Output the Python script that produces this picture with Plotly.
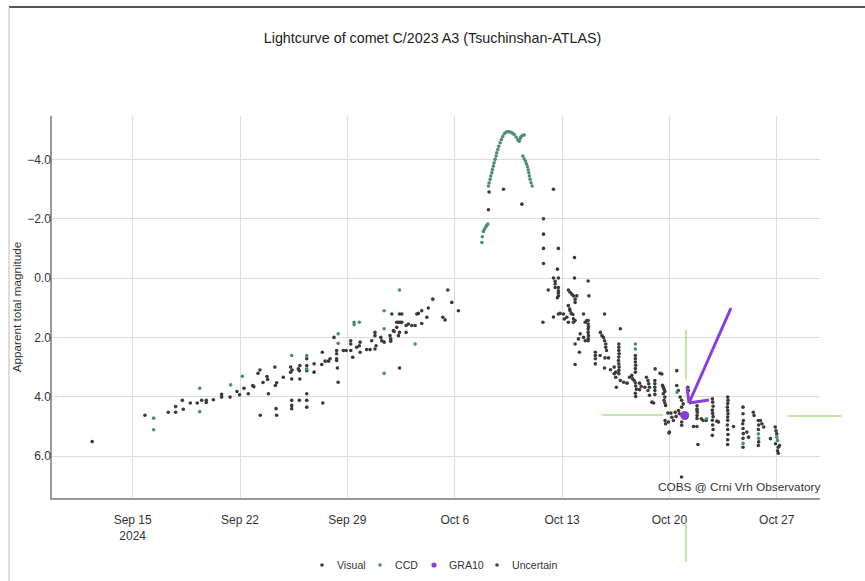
import pandas as pd
import plotly.graph_objects as go

# ---------------- data (days after 2024-09-15 00:00, apparent magnitude) ----------------
visual_day = [
    -2.64, 0.8, 2.32, 2.8, 2.8, 3.3, 3.24, 3.76, 4.21, 4.5, 4.8, 4.8, 5.26, 5.8, 5.8, 6.35,
    6.8, 6.97, 7.26, 7.54, 7.83, 7.9, 8.17, 8.3, 8.32, 8.5, 8.76, 8.8, 8.85, 9.27, 9.39,
    9.3, 9.35, 9.39, 9.82, 10.3, 10.3, 10.4, 10.37, 10.37, 10.37, 10.37, 10.9, 10.8, 10.87,
    10.9, 10.87, 11.35, 11.35, 11.35, 11.35, 11.35, 11.35, 11.83, 11.83, 12.37, 12.33,
    12.4, 12.55, 12.77, 12.87, 13.13, 13.3, 13.3, 13.3, 13.3, 13.35, 13.4, 13.74, 13.92,
    14.22, 14.22, 14.22, 14.35, 14.61, 14.78, 14.83, 14.83, 15.26, 15.48, 15.59, 15.8,
    15.8, 15.87, 15.8, 16.18, 16.24, 16.4, 16.78, 16.83, 16.83, 16.9, 17.0, 17.05, 17.22,
    17.33, 17.44, 17.55, 17.4, 17.55, 17.4, 17.22, 17.4, 17.33, 17.83, 17.83, 17.98, 18.2,
    18.42, 18.53, 18.63, 18.85, 18.85, 19.18, 19.28, 19.57, 20.22, 20.37, 20.55, 20.81,
    21.24,
    23.2, 23.24, 24.18, 25.38, 27.44, 26.79, 26.79, 26.79, 26.79, 27.76, 27.7, 28.81,
    28.81, 26.75, 27.1, 27.44, 27.55, 27.76, 27.55, 27.55, 27.76, 27.76, 27.76, 27.76,
    27.7, 27.44, 27.76, 28.09, 27.87, 28.41, 28.31, 28.15, 28.41, 28.52, 28.63, 28.74,
    28.85, 28.85, 28.41, 28.5, 28.52, 28.6, 28.7, 28.74, 28.85, 28.74, 28.96, 29.4, 29.51,
    29.61, 29.7, 29.75, 29.7, 29.7, 29.72, 29.7, 29.7, 29.72, 29.7, 29.7, 29.18, 29.07,
    29.4, 29.51, 28.85, 29.13, 28.85, 30.77, 30.5, 30.6, 30.7, 30.77, 30.85, 30.85, 30.9,
    30.17, 30.17, 30.17, 30.17, 30.48, 30.8, 31.03, 30.77, 31.16, 31.8, 31.7, 31.7, 31.7,
    31.72, 31.7, 31.68, 31.7, 31.72, 31.7, 31.7, 31.4, 31.5, 31.4, 31.5, 31.8, 32.02,
    32.24, 31.54, 32.78, 32.78, 32.78, 32.8, 32.78, 32.78, 32.55, 32.4, 32.6, 32.7, 32.8,
    32.85, 32.78, 32.8, 33.05, 33.05, 33.5, 33.6, 33.65, 33.7, 33.7, 33.4, 34.07, 34.05,
    34.05, 34.05, 34.05, 34.05, 33.86, 33.97, 34.39, 34.55, 34.6, 34.65, 34.7, 34.6,
    34.7, 34.75, 34.9, 35.1, 34.75, 34.97, 35.48, 35.26, 35.43, 34.51, 35.48, 35.58, 35.7,
    35.8, 35.9, 35.8, 35.38, 35.16, 34.94, 34.72, 35.6, 35.65, 35.8, 35.8, 35.0, 35.79,
    36.2, 36.24, 36.8, 36.8, 36.82, 36.8, 36.8, 36.57, 36.79, 36.86, 37.08, 37.2, 37.4,
    37.8, 37.82, 37.85, 37.8, 37.82, 37.85, 37.8, 37.82, 37.85, 37.8, 38.1, 38.2, 38.8,
    38.82, 38.8, 38.78, 38.8, 38.82, 38.8, 38.8, 38.78, 38.8, 38.82, 38.8, 38.8, 39.18,
    39.8, 39.8, 39.82, 39.78, 39.8, 39.82, 39.8, 39.8, 40.05, 40.16, 40.47, 40.52,
    40.8, 40.82, 40.8, 40.82, 40.8, 40.93, 41.03, 41.15, 41.9, 41.95, 42.0, 41.92,
    42.1, 42.05, 42.1, 41.59, 42.18,
]
visual_mag = [
    5.51, 4.62, 4.52, 4.52, 4.33, 4.42, 4.12, 4.21, 4.21, 4.12, 4.19, 4.12, 4.10, 3.92, 4.01, 4.01,
    3.82, 3.93, 3.71, 3.90, 3.62, 3.66, 3.21, 3.10, 4.62, 3.52, 3.32, 3.42, 3.90, 3.00, 3.53,
    3.62, 4.40, 4.62, 3.34, 3.00, 3.17, 3.10, 3.40, 4.12, 4.29, 4.40, 2.95, 3.06, 3.12,
    3.40, 4.12, 2.72, 2.95, 3.12, 3.90, 4.12, 4.35, 2.89, 3.17, 2.50, 2.91,
    4.21, 2.80, 2.80, 2.72, 2.00, 2.44, 2.55, 2.72, 2.78, 3.03, 3.51, 2.44, 2.44,
    2.11, 2.22, 2.44, 2.67, 2.33, 2.28, 2.16, 2.50, 2.41, 2.41, 2.11, 1.83,
    1.94, 2.28, 2.39, 2.00, 2.11, 2.16, 1.94, 2.05, 2.13, 1.21, 1.77, 1.80, 1.49,
    1.49, 1.49, 1.49, 1.21, 1.21, 3.03, 1.66, 1.83, 1.94, 1.60, 1.83, 1.55, 1.60,
    1.60, 1.21, 1.19, 1.10, 1.53, 1.32, 1.01, 0.71, 1.32, 1.41, 0.40, 0.82,
    1.10,
    -2.30, -2.90, -2.99, -2.49, -2.99, -2.00, -1.48, -1.00, -0.49, -1.00, -0.30, -0.69,
    0.00, 1.49, 0.40, 0.00, 0.11, 0.00, 0.20, 0.32, 0.32, 0.43, 0.50, 0.60,
    0.66, 1.31, 1.21, 1.21, 1.19, 1.49, 1.32, 1.38, 0.40, 0.48, 0.54, 0.60,
    0.71, 0.82, 0.93, 1.04, 1.10, 1.19, 1.23, 1.37, 1.43, 1.49, 0.60, 1.21, 1.49,
    1.43, 0.10, 0.60, 1.43, 1.55, 1.64, 1.72, 1.83, 1.94, 2.05, 2.11, 1.88, 2.05,
    2.00, 2.11, 2.22, 2.50, 2.91, 1.21, 1.83, 1.94, 2.00, 2.11, 2.22, 2.33, 2.44,
    2.50, 2.61, 2.72, 2.89, 2.61, 2.69, 2.69, 3.03, 3.09, 1.71, 2.22, 2.33, 2.44,
    2.55, 2.66, 2.78, 2.89, 3.00, 3.11, 3.22, 3.00, 3.17, 3.22, 3.34, 3.45, 3.51,
    3.54, 3.68, 2.61, 2.72, 2.83, 2.94, 3.05, 3.17, 3.28, 3.34, 3.39, 3.45, 3.64,
    3.75, 3.88, 3.99, 3.54, 3.76, 3.34, 3.45, 3.56, 3.68, 3.95, 3.68, 3.06, 3.45,
    3.56, 3.68, 3.79, 3.92, 4.18, 4.21, 3.21, 3.61, 3.68, 3.75, 3.82, 3.90,
    4.01, 4.29, 4.55, 4.55, 4.91, 5.22, 3.12, 4.80, 4.66, 3.23, 3.62, 3.79, 4.01,
    4.12, 4.24, 4.35, 4.52, 4.69, 4.85, 4.80, 4.46, 4.57, 4.85, 4.96, 5.19, 6.70,
    3.68, 3.79, 4.30, 4.41, 4.52, 4.63, 4.73, 5.00, 5.00, 5.61, 4.74, 4.80, 4.80,
    4.07, 4.18, 4.32, 4.45, 4.56, 4.67, 4.79, 4.95, 5.10, 5.30, 4.82, 4.85, 4.01,
    4.12, 4.23, 4.35, 4.46, 4.57, 4.68, 4.79, 4.95, 5.10, 5.27, 5.45, 5.61, 5.00,
    4.35, 4.57, 4.80, 4.91, 5.07, 5.24, 5.40, 5.70, 5.19, 5.36, 4.52, 4.63,
    4.80, 4.95, 5.10, 5.52, 5.64, 4.80, 4.91, 5.02, 5.02, 5.15, 5.25, 5.58,
    5.70, 5.82, 5.90, 5.41, 5.64,
]

ccd_day = [
    1.37, 1.37, 4.37, 4.37, 6.39, 7.15, 10.37, 11.35, 11.35, 13.4, 13.4, 14.44, 14.44,
    14.78, 16.4, 16.4, 16.4, 17.4, 18.42,
    22.77, 22.8, 22.87, 22.94, 23.03, 23.09, 23.16,
    23.2, 23.24, 23.31, 23.35, 23.42, 23.46, 23.52, 23.57, 23.63, 23.7, 23.74, 23.81,
    23.87, 23.96, 24.04, 24.13, 24.24, 24.35, 24.48, 24.61, 24.74, 24.87, 25.0, 25.11,
    25.2, 25.27, 25.33, 25.44, 25.53,
    25.44, 25.53, 25.61, 25.68, 25.74, 25.79, 25.83, 25.87, 25.92, 25.98, 26.05,
    32.78, 32.78, 37.43, 39.8, 40.8, 40.82, 42.0, 42.05, 35.5,
]
ccd_mag = [
    4.72, 5.11, 4.50, 3.71, 3.60, 3.31, 2.61, 2.61, 3.06, 1.88, 2.20, 1.49, 1.57,
    1.49, 1.10, 1.71, 3.21, 0.40, 2.22,
    -1.20, -1.39, -1.57, -1.65, -1.72, -1.78, -1.82,
    -3.10, -3.21, -3.33, -3.44, -3.55, -3.66, -3.77, -3.88, -4.00, -4.11, -4.22, -4.33,
    -4.44, -4.56, -4.67, -4.77, -4.86, -4.92, -4.93, -4.92, -4.89, -4.84, -4.75, -4.66,
    -4.61, -4.70, -4.77, -4.81, -4.82,
    -4.11, -4.02, -3.94, -3.85, -3.75, -3.65, -3.55, -3.44, -3.33, -3.21, -3.10,
    2.22, 2.39, 4.74, 5.57, 5.25, 5.40, 5.36, 5.47, 3.85,
]

gra10_day = [36.0]
gra10_mag = [4.63]

uncertain_day = [32.78, 33.6, 34.65, 34.7, 33.16, 36.8]
uncertain_mag = [3.53, 3.79, 4.12, 4.20, 3.65, 4.45]

series_names = ["Visual", "CCD", "GRA10", "Uncertain"]
series_colors = ["#3a3a3a", "#4f8c78", "#8a3fd4", "#5a3a32"]
x_ticks_start = "2024-09-15"
x_range = ["2024-09-09 17:45", "2024-10-29 19:40"]
y_range = [7.41, -5.46]
y_ticks = [-4, -2, 0, 2, 4, 6]

# ---------------- figure ----------------
base = pd.Timestamp("2024-09-15")


def to_dates(days):
    return base + pd.to_timedelta(days, unit="D")


W, H = 865, 581
ML, MR, MT, MB = 52, 45, 116, 83
PW, PH = W - ML - MR, H - MT - MB


def px(x):
    return (x - ML) / PW


def py(y):
    return (H - MB - y) / PH


fig = go.Figure()
series = [(visual_day, visual_mag, 3.6), (ccd_day, ccd_mag, 3.6), (gra10_day, gra10_mag, 9),
          (uncertain_day, uncertain_mag, 3.6)]
for (d, m, s), name, col in zip(series, series_names, series_colors):
    fig.add_trace(go.Scatter(x=to_dates(d), y=m, mode="markers", name=name, showlegend=False,
                             marker=dict(size=s, color=col)))

green = "#b5dc8a"
purple = "#8a3fd4"
overlay_lines = [
    # (x0, y0, x1, y1, colour, width) in page pixels
    (686, 330, 686, 380, green, 1.5),
    (686, 522, 686, 562, green, 1.5),
    (602, 415, 663, 415, green, 1.5),
    (788, 416, 842, 416, green, 1.5),
    (731, 308, 689, 403, purple, 3),
    (689, 403, 687, 387, purple, 3),
    (689, 403, 709, 400, purple, 3),
    (9, 7, 865, 7, "#555555", 2),
    (9, 7, 9, 581, "#bbbbbb", 1),
]
shapes = [dict(type="line", xref="paper", yref="paper", x0=px(a), y0=py(b), x1=px(c), y1=py(d),
               line=dict(color=col, width=wd), layer="above")
          for a, b, c, d, col, wd in overlay_lines]

# legend drawn as a compact row below the axis (page pixels)
legend_y = 565
legend_marker_x = [322, 380, 434, 497]
legend_marker_r = [1.8, 1.8, 2.6, 1.8]
annotations = []
for name, col, mx, r in zip(series_names, series_colors, legend_marker_x, legend_marker_r):
    shapes.append(dict(type="circle", xref="paper", yref="paper", x0=px(mx - r), x1=px(mx + r),
                       y0=py(legend_y + r), y1=py(legend_y - r), fillcolor=col, line=dict(width=0)))
    annotations.append(dict(text=name, xref="paper", yref="paper", x=px(mx + 13), y=py(legend_y),
                            xanchor="left", yanchor="middle", showarrow=False,
                            font=dict(size=10.6, color="#333333")))

annotations.append(dict(text="COBS @ Crni Vrh Observatory", xref="paper", yref="paper", x=px(822),
                        y=py(487), xanchor="right", yanchor="middle", showarrow=False,
                        font=dict(size=11.8, color="#333333")))

font_family = "Liberation Sans, Arial, sans-serif"
fig.update_layout(
    width=W, height=H,
    margin=dict(l=ML, r=MR, t=MT, b=MB),
    paper_bgcolor="white", plot_bgcolor="white",
    font=dict(family=font_family, size=12, color="#333333"),
    title=dict(text="Lightcurve of comet C/2023 A3 (Tsuchinshan-ATLAS)", x=0.5, xanchor="center",
               y=1 - 38 / H, yanchor="middle", font=dict(size=14.3, color="#222222")),
    showlegend=False,
    shapes=shapes,
    annotations=annotations,
)
fig.update_xaxes(type="date", range=x_range, tick0=x_ticks_start, dtick=7 * 86400000,
                 showgrid=True, gridcolor="#dcdcdc", gridwidth=1, showline=True, linecolor="#999999",
                 linewidth=1.5, ticks="", ticklen=0, ticklabelstandoff=10, zeroline=False,
                 tickfont=dict(size=12, color="#333333"))
fig.update_yaxes(range=y_range, tickvals=y_ticks, tickformat=".1f", showgrid=True, gridcolor="#dcdcdc",
                 gridwidth=1, showline=True, linecolor="#999999", linewidth=1.5, ticks="", ticklen=0,
                 ticklabelstandoff=-3, zeroline=False,
                 title=dict(text="Apparent total magnitude", font=dict(size=11.7, color="#333333"), standoff=3),
                 tickfont=dict(size=12, color="#333333"))

fig.write_html("out.html", config={"displayModeBar": False},
               post_script="document.body.style.margin='0px';")
